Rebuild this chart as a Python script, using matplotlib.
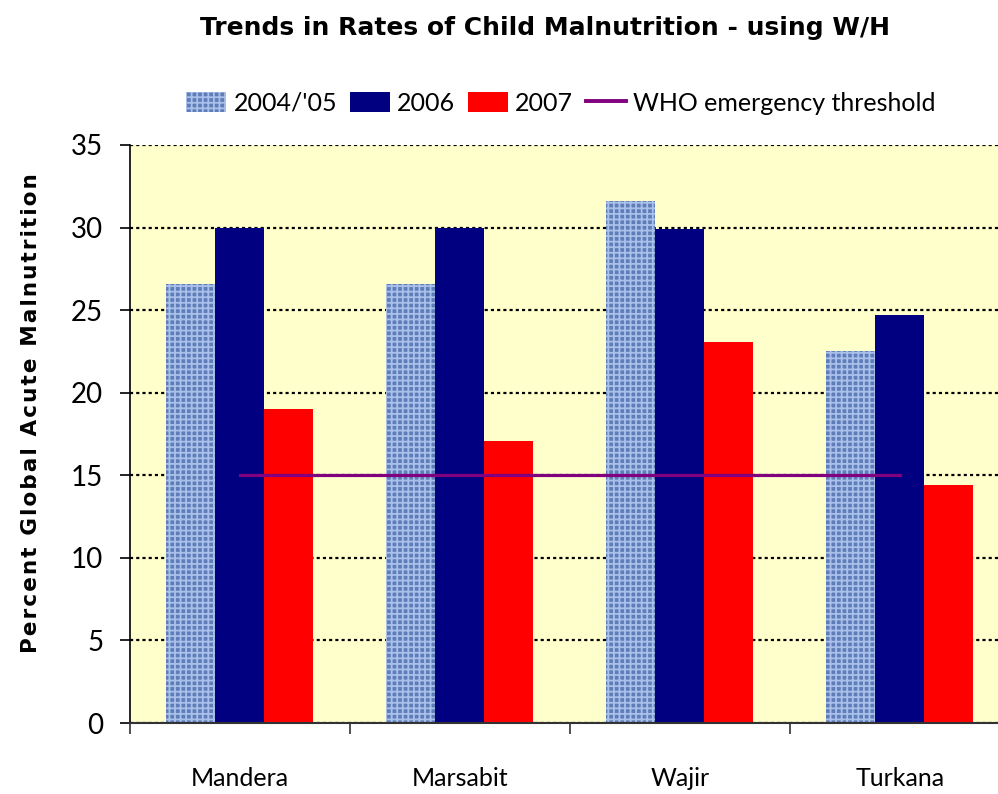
import numpy as np
import matplotlib.pyplot as plt
from matplotlib.lines import Line2D
from matplotlib.patches import Patch

districts = ["Mandera", "Marsabit", "Wajir", "Turkana"]
gam_2004 = [26.6, 26.6, 31.6, 22.5]
gam_2006 = [30.0, 30.0, 29.9, 24.7]
gam_2007 = [19.0, 17.1, 23.1, 14.4]
who_threshold = 15
yticks = [0, 5, 10, 15, 20, 25, 30, 35]

plt.rcParams['hatch.linewidth'] = 1.3

fig = plt.figure(figsize=(9.98, 7.94), dpi=100)
ax = fig.add_axes([0.130, 0.0894, 0.882, 0.728])
ax.set_facecolor("#ffffcc")

x = np.arange(len(districts))
w = 0.2227
ax.bar(x - w, gam_2004, w, color="#5f7db8", edgecolor="#a9c0ea", hatch="+++", linewidth=0, zorder=2)
ax.bar(x, gam_2006, w, color="#000080", linewidth=0, zorder=2)
ax.bar(x + w, gam_2007, w, color="#ff0000", linewidth=0, zorder=2)
ax.plot([x[0], x[-1]], [who_threshold, who_threshold], color="#800080", lw=2.3, zorder=3)

ax.set_ylim(0, 35)
ax.set_xlim(-0.5, 3.5)
ax.set_yticks(yticks)
ax.yaxis.grid(True, color="black", linestyle=(0, (1.4, 1.4)), linewidth=1.6, zorder=1)
ax.set_axisbelow(True)

ax.set_xticks(np.arange(-0.5, 4, 1))
ax.set_xticklabels([])
ax.set_xticks(x, minor=True)
ax.set_xticklabels(districts, minor=True, fontsize=18, family=["Lato", "DejaVu Sans"])
ax.tick_params(axis="x", which="minor", length=0, pad=32)
ax.tick_params(axis="x", which="major", length=8, width=1.2, color="#333333", direction="out")
ax.tick_params(axis="y", length=7, width=1.2, pad=12, labelsize=20)
for t in ax.get_yticklabels():
    t.set_family(["Lato", "DejaVu Sans"])

ax.spines["top"].set_visible(False)
ax.spines["right"].set_visible(False)
ax.spines["left"].set_color("black")
ax.spines["left"].set_linewidth(1.2)
ax.spines["bottom"].set_color("#333333")
ax.spines["bottom"].set_linewidth(1.5)

fig.text(0.546, 0.965, "Trends in Rates of Child Malnutrition - using W/H", ha="center", va="center",
         fontsize=18, fontweight="bold", family=["DejaVu Sans"])

ylabel = "Percent Global Acute Malnutrition"
fig.text(0.031, 0.480, "\u200a".join(ylabel), rotation=90, ha="center", va="center",
         fontsize=15.5, fontweight="bold", family=["DejaVu Sans"])

handles = [Patch(facecolor="#5f7db8", edgecolor="#a9c0ea", hatch="+++", linewidth=0),
           Patch(facecolor="#000080", linewidth=0),
           Patch(facecolor="#ff0000", linewidth=0),
           Line2D([0], [0], color="#800080", lw=2.8)]
labels = ["2004/'05", "2006", "2007", "WHO emergency threshold"]
fig.legend(handles, labels, loc="center", bbox_to_anchor=(0.562, 0.870), ncol=4, frameon=False,
           prop={"family": ["Lato", "DejaVu Sans"], "size": 18}, handlelength=1.6, handleheight=0.9,
           handletextpad=0.3, columnspacing=0.5)

fig.savefig("out.png", dpi=100, facecolor="white")
